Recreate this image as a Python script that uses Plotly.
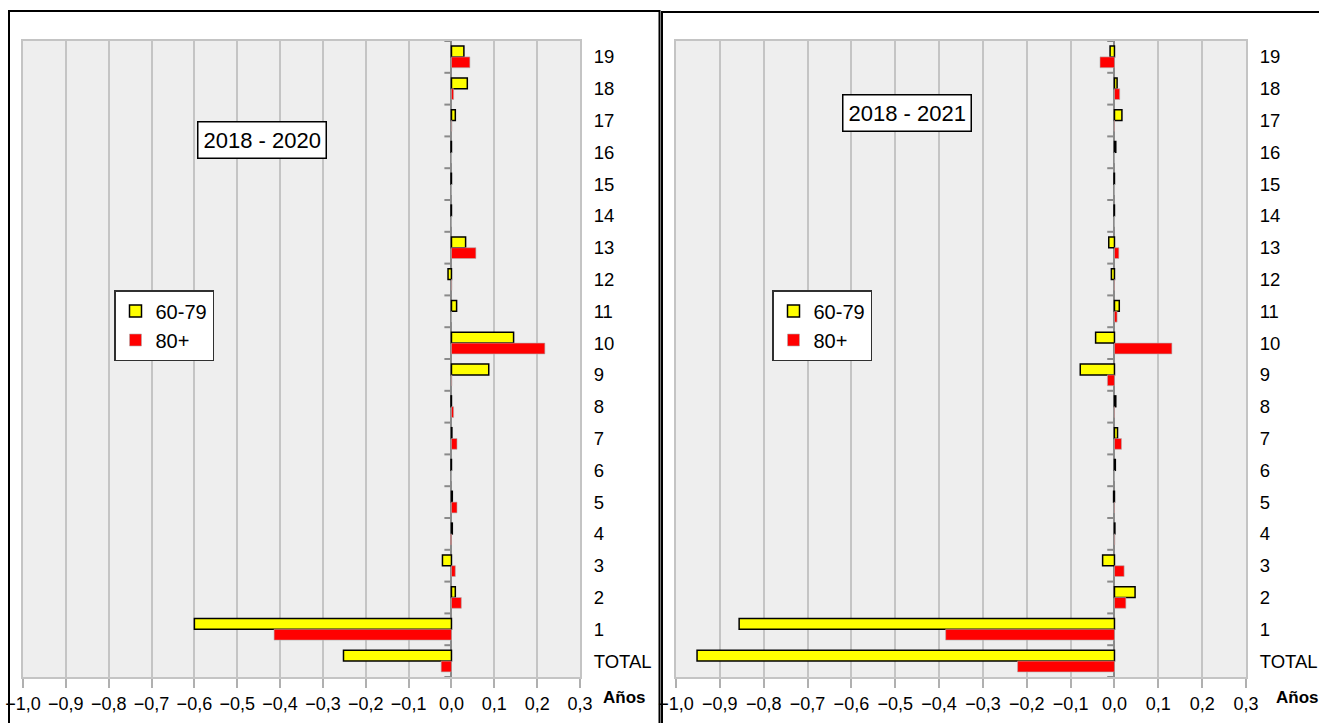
import plotly.graph_objects as go

W, H = 1319, 723

# Categories, top to bottom
categories = ["19", "18", "17", "16", "15", "14", "13", "12", "11", "10",
              "9", "8", "7", "6", "5", "4", "3", "2", "1", "TOTAL"]

x_ticks = [-1.0, -0.9, -0.8, -0.7, -0.6, -0.5, -0.4, -0.3, -0.2, -0.1,
           0.0, 0.1, 0.2, 0.3]

# 2018 - 2020
p2020_60_79 = [0.029, 0.037, 0.009, -0.001, -0.001, -0.001, 0.033, -0.008, 0.012, 0.145,
               0.087, -0.001, 0.001, -0.001, 0.002, 0.002, -0.021, 0.009, -0.600, -0.252]
p2020_80 = [0.043, 0.005, 0.001, 0.0, 0.0, 0.0, 0.057, 0.001, 0.0, 0.218,
            0.001, 0.005, 0.013, 0.0, 0.013, -0.002, 0.009, 0.023, -0.414, -0.024]

# 2018 - 2021
p2021_60_79 = [-0.010, 0.006, 0.017, 0.003, -0.001, -0.001, -0.013, -0.007, 0.011, -0.043,
               -0.078, 0.003, 0.007, 0.002, -0.002, 0.001, -0.027, 0.047, -0.856, -0.952]
p2021_80 = [-0.033, 0.012, -0.001, 0.0, 0.0, 0.0, 0.010, -0.001, 0.006, 0.131,
            -0.016, -0.001, 0.016, 0.0, -0.001, 0.001, 0.022, 0.026, -0.385, -0.221]

YELLOW = "#ffff00"
RED = "#ff0000"
FONT = "Liberation Sans"


def px_x(p):
    return p / W


def px_y(p):
    return 1 - p / H


panels = [
    dict(xa="x", ya="y", legend="legend", s1=p2020_60_79, s2=p2020_80,
         dom=(23, 580), label="2018 - 2020", box=(262, 140), legend_pos=(114, 290),
         anos=624),
    dict(xa="x2", ya="y2", legend="legend2", s1=p2021_60_79, s2=p2021_80,
         dom=(676, 1246), label="2018 - 2021", box=(907, 113), legend_pos=(772, 290),
         anos=1297),
]

fig = go.Figure()
layout = dict(
    width=W, height=H, autosize=False,
    margin=dict(l=0, r=0, t=0, b=0),
    paper_bgcolor="white", plot_bgcolor="#eeeeee",
    barmode="group", bargap=0.32, bargroupgap=0.0,
    separators=",.",
    font=dict(family=FONT, color="black"),
    showlegend=True,
)

shapes = []
annotations = []
ydom = [px_y(677), px_y(41)]
tick_len = 0.0165

for i, p in enumerate(panels):
    fig.add_trace(go.Bar(
        y=categories, x=p["s1"], orientation="h", name="60-79",
        xaxis=p["xa"], yaxis=p["ya"], legend=p["legend"],
        marker=dict(color=YELLOW, line=dict(color="black", width=1.5)),
    ))
    fig.add_trace(go.Bar(
        y=categories, x=p["s2"], orientation="h", name="80+",
        xaxis=p["xa"], yaxis=p["ya"], legend=p["legend"],
        marker=dict(color=RED, line=dict(color="#b0b0b0", width=0.6)),
    ))

    xkey = "xaxis" if i == 0 else "xaxis2"
    ykey = "yaxis" if i == 0 else "yaxis2"
    layout[xkey] = dict(
        domain=[px_x(p["dom"][0]), px_x(p["dom"][1])],
        range=[-1.0, 0.3], anchor=p["ya"],
        tickvals=x_ticks, tickformat=".1f",
        showgrid=True, gridcolor="#c4c4c4", gridwidth=2,
        zeroline=True, zerolinecolor="#8a8a8a", zerolinewidth=2,
        showline=True, linecolor="#c4c4c4", linewidth=2, mirror=True,
        ticks="outside", ticklen=9, tickwidth=1.5, tickcolor="#b0b0b0",
        tickfont=dict(size=18, family=FONT, color="black"),
        automargin=False, fixedrange=True,
    )
    layout[ykey] = dict(
        domain=ydom, anchor=p["xa"], type="category",
        categoryorder="array", categoryarray=categories,
        range=[len(categories) - 0.5, -0.5],
        side="right", ticks="", ticklabelstandoff=8,
        showline=True, linecolor="#c4c4c4", linewidth=2, mirror=True,
        showgrid=False, zeroline=False,
        tickfont=dict(size=18.5, family=FONT, color="black"),
        automargin=False, fixedrange=True,
    )

    # small tick marks on the vertical axis at x = 0, between categories
    for k in range(len(categories) + 1):
        shapes.append(dict(
            type="line", xref=p["xa"], yref=p["ya"],
            x0=-tick_len, x1=0, y0=k - 0.5, y1=k - 0.5,
            line=dict(color="#8a8a8a", width=2),
        ))

    lx, ly = p["legend_pos"]
    layout[p["legend"]] = dict(
        x=px_x(lx), y=px_y(ly), xanchor="left", yanchor="top",
        bgcolor="white", bordercolor="#303030", borderwidth=1.5,
        font=dict(size=20, family=FONT, color="black"),
        itemwidth=30, tracegroupgap=0, traceorder="normal",
    )

    bx, by = p["box"]
    annotations.append(dict(
        text=p["label"], x=px_x(bx), y=px_y(by), xref="paper", yref="paper",
        xanchor="center", yanchor="middle", showarrow=False,
        font=dict(size=22, family=FONT, color="black"),
        bgcolor="white", bordercolor="black", borderwidth=1.5, borderpad=5,
    ))
    annotations.append(dict(
        text="<b>Años</b>", x=px_x(p["anos"]), y=px_y(697), xref="paper", yref="paper",
        xanchor="center", yanchor="middle", showarrow=False,
        font=dict(size=17, family=FONT, color="black"),
    ))

# panel frames
shapes.append(dict(type="rect", xref="paper", yref="paper",
                   x0=px_x(9), x1=px_x(659.5), y0=-0.05, y1=px_y(11),
                   line=dict(color="black", width=2)))
shapes.append(dict(type="rect", xref="paper", yref="paper",
                   x0=px_x(662), x1=1.05, y0=-0.05, y1=px_y(12),
                   line=dict(color="black", width=2)))

layout["shapes"] = shapes
layout["annotations"] = annotations
fig.update_layout(**layout)

fig.write_html("out.html")
